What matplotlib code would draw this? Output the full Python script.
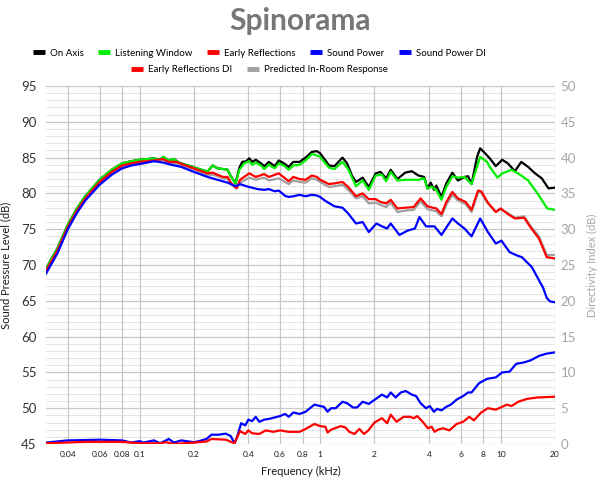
import matplotlib
matplotlib.use("Agg")
import matplotlib.pyplot as plt
from matplotlib.lines import Line2D
from matplotlib.ticker import FixedLocator, FixedFormatter, NullFormatter

# ── Data (frequency in kHz, level in dB) ──────────────────────────────────────
on_axis_f = [0.0303, 0.035, 0.04, 0.045, 0.05, 0.06, 0.07, 0.08, 0.09, 0.1, 0.11, 0.12,
             0.13, 0.135, 0.145, 0.155, 0.165, 0.18, 0.2, 0.22, 0.238, 0.254, 0.27, 0.29,
             0.307, 0.32, 0.34, 0.357, 0.37, 0.39, 0.405, 0.42, 0.44, 0.47, 0.49, 0.52,
             0.56, 0.59, 0.63, 0.67, 0.71, 0.77, 0.83, 0.90, 0.96, 1.0, 1.07, 1.12, 1.2,
             1.33, 1.41, 1.5, 1.58, 1.72, 1.86, 2.03, 2.16, 2.32, 2.46, 2.68, 2.96, 3.22,
             3.5, 3.77, 3.93, 4.1, 4.27, 4.4, 4.7, 5.0, 5.4, 5.8, 6.3, 6.6, 6.9, 7.4, 7.7,
             8.2, 8.7, 9.4, 10.2, 10.95, 12.0, 13.0, 14.2, 15.5, 16.9, 18.4, 20.0]
on_axis_db = [69.5, 72.3, 75.6, 77.9, 79.6, 81.9, 83.3, 84.2, 84.5, 84.7, 84.8, 84.9,
              84.7, 85.1, 84.6, 84.8, 84.3, 84.0, 83.65, 83.3, 83.05, 83.9, 83.5, 83.4,
              83.3, 82.4, 81.4, 83.6, 84.4, 84.5, 84.9, 84.4, 84.7, 84.2, 83.8, 84.4,
              83.8, 84.6, 84.2, 83.7, 84.4, 84.4, 85.0, 85.8, 85.9, 85.6, 84.6, 83.9, 83.8,
              85.0, 84.2, 82.5, 81.6, 82.2, 80.9, 82.8, 83.0, 82.1, 83.3, 82.0, 82.9, 83.1,
              82.5, 82.3, 80.7, 81.5, 80.5, 81.1, 79.5, 81.4, 82.9, 81.8, 82.3, 82.4, 81.3,
              85.1, 86.3, 85.6, 84.9, 83.8, 84.7, 84.2, 83.1, 84.4, 83.7, 82.8, 82.1, 80.7, 80.8]

lw_f = [0.0303, 0.035, 0.04, 0.045, 0.05, 0.06, 0.07, 0.08, 0.09, 0.1, 0.11, 0.12, 0.13,
        0.135, 0.145, 0.155, 0.165, 0.18, 0.2, 0.22, 0.238, 0.254, 0.27, 0.29, 0.307, 0.32,
        0.34, 0.357, 0.38, 0.405, 0.42, 0.44, 0.47, 0.49, 0.52, 0.56, 0.59, 0.63, 0.67,
        0.71, 0.77, 0.83, 0.90, 0.96, 1.0, 1.12, 1.2, 1.33, 1.43, 1.58, 1.72, 1.86, 2.03,
        2.2, 2.32, 2.46, 2.68, 2.96, 3.3, 3.5, 3.77, 3.93, 4.15, 4.4, 4.7, 5.0, 5.4, 5.8,
        6.3, 6.9, 7.7, 8.4, 8.7, 9.6, 10.2, 11.5, 13.0, 14.2, 16.1, 18.1, 20.0]
lw_db = [69.5, 72.3, 75.6, 77.9, 79.6, 81.9, 83.3, 84.2, 84.5, 84.7, 84.8, 84.9, 84.7,
         85.1, 84.6, 84.8, 84.3, 84.0, 83.65, 83.3, 83.05, 83.9, 83.5, 83.4, 83.3, 82.4,
         81.4, 83.3, 84.2, 84.5, 84.0, 84.3, 83.9, 83.4, 84.0, 83.5, 84.2, 83.9, 83.3,
         83.9, 84.0, 84.6, 85.5, 85.3, 85.1, 83.6, 83.4, 84.4, 83.4, 81.0, 81.8, 80.5, 82.5,
         82.6, 81.7, 83.0, 81.8, 81.9, 81.9, 81.9, 82.1, 80.7, 80.9, 80.5, 79.1, 80.9, 82.4,
         82.2, 82.3, 81.3, 85.1, 84.4, 83.7, 82.2, 82.8, 83.3, 82.5, 81.8, 79.9, 77.9, 77.7]

er_f = [0.0303, 0.035, 0.04, 0.045, 0.05, 0.06, 0.07, 0.08, 0.09, 0.1, 0.11, 0.12, 0.135,
        0.145, 0.16, 0.18, 0.2, 0.22, 0.238, 0.254, 0.27, 0.29, 0.307, 0.32, 0.335, 0.345,
        0.36, 0.405, 0.44, 0.49, 0.52, 0.59, 0.67, 0.71, 0.77, 0.83, 0.9, 0.96, 1.0, 1.12,
        1.2, 1.33, 1.43, 1.58, 1.72, 1.86, 2.03, 2.16, 2.32, 2.46, 2.68, 2.96, 3.3, 3.6,
        3.93, 4.2, 4.4, 4.7, 5.0, 5.4, 5.8, 6.4, 6.9, 7.5, 7.8, 8.5, 9.4, 10.0, 11.0, 12.0,
        13.5, 14.6, 16.3, 18.0, 20.0]
er_db = [69.2, 72.0, 75.3, 77.6, 79.3, 81.6, 83.0, 83.9, 84.2, 84.4, 84.5, 84.6, 84.8,
         84.4, 84.4, 83.9, 83.5, 83.1, 82.8, 82.9, 82.6, 82.3, 82.3, 81.5, 81.0, 80.7,
         81.9, 82.8, 82.3, 82.7, 82.3, 82.8, 81.7, 82.3, 82.0, 81.9, 82.5, 82.3, 81.9, 81.3,
         81.4, 81.6, 80.9, 79.6, 80.0, 79.2, 79.2, 78.8, 78.6, 79.1, 77.9, 78.0, 78.1, 79.3,
         78.2, 78.0, 77.9, 77.1, 78.8, 80.2, 79.3, 78.8, 77.7, 80.4, 80.3, 78.7, 77.4, 77.9,
         77.1, 76.5, 76.6, 75.3, 73.7, 71.1, 70.9]

pir_f = er_f
pir_db = [69.0, 71.8, 75.1, 77.4, 79.1, 81.4, 82.8, 83.8, 84.1, 84.3, 84.4, 84.5, 84.6,
          84.2, 84.2, 83.7, 83.3, 82.9, 82.6, 82.6, 82.4, 82.1, 82.0, 81.4, 80.9, 80.8,
          81.5, 82.2, 81.9, 82.2, 81.8, 82.1, 81.3, 81.8, 81.6, 81.5, 82.1, 81.9, 81.6, 80.9,
          81.0, 81.2, 80.5, 79.3, 79.6, 78.6, 78.7, 78.4, 78.1, 78.7, 77.4, 77.6, 77.7, 78.9,
          77.8, 77.6, 77.5, 76.8, 78.4, 79.8, 79.0, 78.5, 77.4, 80.2, 80.1, 78.6, 77.4, 77.8,
          77.2, 76.6, 76.8, 75.5, 74.0, 71.4, 71.4]

sp_f = [0.0303, 0.035, 0.04, 0.045, 0.05, 0.06, 0.07, 0.08, 0.09, 0.1, 0.11, 0.12, 0.135,
        0.15, 0.17, 0.2, 0.238, 0.27, 0.307, 0.34, 0.36, 0.39, 0.45, 0.49, 0.52, 0.56, 0.59,
        0.64, 0.67, 0.71, 0.77, 0.83, 0.9, 0.96, 1.0, 1.07, 1.2, 1.33, 1.43, 1.58, 1.72,
        1.86, 2.05, 2.2, 2.35, 2.46, 2.75, 3.05, 3.35, 3.55, 3.86, 4.3, 4.7, 5.4, 5.8, 6.3,
        6.9, 7.7, 8.5, 9.4, 10.1, 11.2, 12.4, 13.1, 14.9, 16.2, 17.2, 18.0, 18.8, 20.0]
sp_db = [68.8, 71.6, 75.0, 77.3, 79.0, 81.2, 82.6, 83.5, 83.9, 84.1, 84.3, 84.5, 84.3,
         84.0, 83.7, 83.0, 82.3, 81.9, 81.5, 81.0, 81.3, 81.0, 80.6, 80.5, 80.6, 80.3, 80.4,
         79.65, 79.5, 79.6, 79.8, 79.6, 79.8, 79.7, 79.5, 78.95, 78.2, 78.0, 77.2, 75.8, 76.0,
         74.6, 75.8, 75.4, 75.1, 75.8, 74.2, 74.8, 75.1, 76.7, 75.4, 75.4, 74.2, 76.5, 75.8,
         75.1, 74.0, 76.5, 74.6, 73.0, 73.4, 71.8, 71.3, 71.1, 69.7, 68.0, 66.8, 65.4, 64.9,
         64.8]

# directivity indices (right axis, dB)
spdi_f = [0.0303, 0.04, 0.05, 0.06, 0.08, 0.09, 0.1, 0.105, 0.12, 0.13, 0.145, 0.155, 0.17,
          0.2, 0.21, 0.235, 0.25, 0.275, 0.3, 0.32, 0.335, 0.345, 0.365, 0.385, 0.4, 0.42,
          0.44, 0.46, 0.49, 0.52, 0.6, 0.64, 0.67, 0.71, 0.77, 0.83, 0.93, 1.0, 1.05, 1.1,
          1.15, 1.22, 1.33, 1.41, 1.52, 1.6, 1.72, 1.86, 2.2, 2.35, 2.46, 2.62, 2.8, 2.98,
          3.22, 3.4, 3.6, 3.86, 4.05, 4.27, 4.45, 4.7, 5.0, 5.3, 5.7, 6.2, 6.6, 6.9, 7.6,
          8.4, 9.4, 10.2, 11.2, 12.2, 13.5, 14.7, 16.3, 17.8, 20.0]
spdi_db = [0.2, 0.5, 0.55, 0.6, 0.5, 0.2, 0.4, 0.2, 0.5, 0.1, 0.7, 0.2, 0.5,
           0.25, 0.35, 0.7, 1.3, 1.3, 1.45, 1.1, 0.1, 0.8, 2.9, 2.6, 3.4, 3.2,
           3.8, 3.1, 3.4, 3.5, 3.9, 4.2, 3.8, 4.4, 4.2, 4.5, 5.5, 5.3, 5.2, 4.5,
           5.0, 5.0, 5.9, 5.7, 5.1, 5.1, 5.9, 5.6, 6.9, 6.5, 7.2, 6.5, 7.2, 7.4,
           6.9, 6.7, 5.7, 5.0, 5.3, 4.5, 4.9, 4.7, 5.2, 5.5, 6.2, 6.7, 7.2, 7.2, 8.5,
           9.1, 9.3, 10.0, 10.1, 11.2, 11.4, 11.7, 12.3, 12.6, 12.8]

erdi_f = [0.0303, 0.05, 0.08, 0.1, 0.13, 0.14, 0.155, 0.2, 0.235, 0.25, 0.3, 0.335,
          0.36, 0.385, 0.4, 0.42, 0.46, 0.5, 0.55, 0.6, 0.67, 0.77, 0.83, 0.93, 1.0,
          1.07, 1.1, 1.15, 1.3, 1.38, 1.45, 1.55, 1.65, 1.75, 1.85, 2.0, 2.2, 2.35, 2.46,
          2.65, 2.9, 3.15, 3.3, 3.45, 3.7, 3.95, 4.15, 4.3, 4.5, 4.8, 5.2, 5.7, 6.2, 6.7,
          7.1, 7.8, 8.5, 9.4, 10.2, 10.8, 11.5, 12.5, 14.0, 16.0, 20.0]
erdi_db = [0.1, 0.3, 0.3, 0.1, 0.1, 0.25, 0.0, 0.2, 0.35, 0.7, 0.6, 0.1,
           1.8, 1.4, 1.9, 1.5, 1.4, 1.9, 1.7, 1.9, 1.7, 1.7, 2.1, 2.8, 2.5,
           2.4, 1.6, 2.0, 2.5, 2.3, 1.7, 1.4, 2.1, 1.4, 1.9, 3.0, 3.6, 2.9, 4.1,
           3.1, 3.8, 3.8, 3.6, 3.9, 3.1, 2.2, 2.4, 1.7, 2.0, 2.2, 1.9, 2.8, 3.1, 3.8,
           3.3, 4.4, 5.0, 4.8, 5.2, 5.5, 5.3, 5.9, 6.3, 6.5, 6.6]

x_ticks = [0.04, 0.06, 0.08, 0.1, 0.2, 0.4, 0.6, 0.8, 1, 2, 4, 6, 8, 10, 20]
x_tick_labels = ["0.04", "0.06", "0.08", "0.1", "0.2", "0.4", "0.6", "0.8",
                 "1", "2", "4", "6", "8", "10", "20"]

# ── Style ─────────────────────────────────────────────────────────────────────
plt.rcParams["font.family"] = ["Lato", "DejaVu Sans"]

C_OA = "#000000"
C_LW = "#00ee00"
C_ER = "#ff0000"
C_SP = "#0000ff"
C_PIR = "#a0a0a0"
LW = 1.6

fig = plt.figure(figsize=(6, 4.8), dpi=100)
ax = fig.add_axes([46 / 600, 36 / 480, 509 / 600, 358 / 480])
ax2 = ax.twinx()

ax.set_xscale("log")
ax.set_xlim(0.0303, 20)
ax.set_ylim(45, 95)
ax2.set_ylim(0, 50)

# grid: every dB minor, every 5 dB major
for v in range(46, 95):
    if v % 5:
        ax.axhline(v, color="#e4e4e4", lw=0.7, zorder=0)
for v in range(45, 96, 5):
    ax.axhline(v, color="#c8c8c8", lw=0.9, zorder=0)
for f in x_ticks:
    ax.axvline(f, color="#c8c8c8", lw=0.9, zorder=0)

ax.plot(on_axis_f, on_axis_db, color=C_OA, lw=LW, zorder=3)
ax.plot(lw_f, lw_db, color=C_LW, lw=LW, zorder=3)
ax.plot(pir_f, pir_db, color=C_PIR, lw=LW, zorder=3)
ax.plot(er_f, er_db, color=C_ER, lw=LW, zorder=3)
ax.plot(sp_f, sp_db, color=C_SP, lw=LW, zorder=3)
ax2.plot(spdi_f, spdi_db, color=C_SP, lw=LW)
ax2.plot(erdi_f, erdi_db, color=C_ER, lw=LW)

ax.xaxis.set_major_locator(FixedLocator(x_ticks))
ax.xaxis.set_major_formatter(FixedFormatter(x_tick_labels))
ax.xaxis.set_minor_formatter(NullFormatter())
ax.tick_params(axis="x", which="both", length=0, labelsize=6, pad=5, colors="#1a1a1a")
ax.set_yticks(range(45, 96, 5))
ax.tick_params(axis="y", length=0, labelsize=9.5, pad=7, colors="#333333")
ax2.set_yticks(range(0, 51, 5))
ax2.tick_params(axis="y", length=0, labelsize=9.5, pad=4, colors="#a6a6a6")
for a in (ax, ax2):
    for s in a.spines.values():
        s.set_visible(False)

ax.set_xlabel("Frequency (kHz)", fontsize=8, color="#1a1a1a", labelpad=6)
ax.set_ylabel("Sound Pressure Level (dB)", fontsize=8, color="#1a1a1a")
ax.yaxis.set_label_coords(-0.068, 0.5)
ax2.set_ylabel("Directivity Index (dB)", fontsize=8, color="#a6a6a6")
ax2.yaxis.set_label_coords(1.063, 0.5)

fig.text(0.5, 0.957, "Spinorama", ha="center", va="center",
         fontsize=21.5, fontweight="bold", color="#777777")

def handle(c):
    return Line2D([], [], color=c, lw=3.5, solid_capstyle="butt")

# legend rows are centred a little left of the figure centre, as in the source
leg_kw = dict(frameon=False, fontsize=7, handlelength=1.25, handletextpad=0.5,
              columnspacing=1.5, borderaxespad=0)
fig.legend([handle(C_OA), handle(C_LW), handle(C_ER), handle(C_SP), handle(C_SP)],
           ["On Axis", "Listening Window", "Early Reflections", "Sound Power",
            "Sound Power DI"],
           loc="center", bbox_to_anchor=(0.432, 0.889), ncol=5, **leg_kw)
fig.legend([handle(C_ER), handle(C_PIR)],
           ["Early Reflections DI", "Predicted In-Room Response"],
           loc="center", bbox_to_anchor=(0.432, 0.855), ncol=2, **leg_kw)

fig.savefig("out.png", dpi=100)
